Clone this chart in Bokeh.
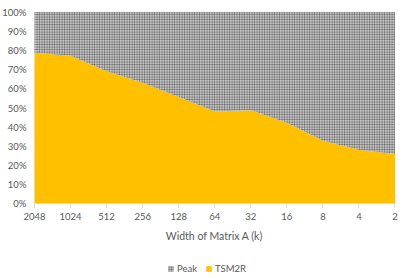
from bokeh.plotting import figure
from bokeh.models import (ColumnDataSource, Legend, LegendItem, FixedTicker, NumeralTickFormatter,
                          Range1d, LinearAxis)
from bokeh.embed import file_html
from bokeh.resources import INLINE

categories = ["2048", "1024", "512", "256", "128", "64", "32", "16", "8", "4", "2"]
tsm2r = [0.788, 0.772, 0.692, 0.632, 0.557, 0.482, 0.488, 0.423, 0.329, 0.282, 0.260]
peak = [1.0 - v for v in tsm2r]

xs = list(range(len(categories)))
src = ColumnDataSource(dict(x=xs, tsm2r=tsm2r, peak=peak))

FONT = "Lato"
TXT = "#595959"

n = len(categories) - 1
p = figure(frame_width=399, frame_height=275, output_backend="svg", toolbar_location=None,
           x_axis_location=None, y_axis_location=None,
           x_range=Range1d(-0.943, n + 0.125), y_range=Range1d(-0.3724, 1.0599))
p.min_border_left = 0
p.min_border_right = 0
p.min_border_top = 0
p.min_border_bottom = 0
p.outline_line_color = None
p.xgrid.visible = False
p.ygrid.visible = False

r_t = p.varea_stack(["tsm2r", "peak"], x="x", source=src,
                    color=["#FFC000", "#c6c6c6"],
                    hatch_pattern=[" ", "+"], hatch_color=["#FFC000", "#202020"],
                    hatch_scale=[3, 2.5], hatch_weight=[0.6, 0.7], hatch_alpha=[0, 0.55])

xaxis = LinearAxis(fixed_location=0, bounds=(0, n))
xaxis.ticker = FixedTicker(ticks=xs)
xaxis.major_label_overrides = {i: c for i, c in enumerate(categories)}
xaxis.axis_line_color = "#d9d9d9"
xaxis.major_tick_line_color = "#d9d9d9"
xaxis.major_tick_in = 0
xaxis.major_tick_out = 4
xaxis.minor_tick_line_color = None
xaxis.major_label_text_font = FONT
xaxis.major_label_text_font_size = "9.5px"
xaxis.major_label_text_color = TXT
xaxis.major_label_standoff = 5
xaxis.axis_label = "Width of Matrix A (k)"
xaxis.axis_label_text_font = FONT
xaxis.axis_label_text_font_size = "10.5px"
xaxis.axis_label_text_font_style = "normal"
xaxis.axis_label_text_color = TXT
xaxis.axis_label_standoff = 7
p.add_layout(xaxis, "below")

yaxis = LinearAxis(fixed_location=0, bounds=(0, 1))
yaxis.ticker = FixedTicker(ticks=[i / 10 for i in range(11)])
yaxis.formatter = NumeralTickFormatter(format="0%")
yaxis.axis_line_color = None
yaxis.major_tick_line_color = None
yaxis.minor_tick_line_color = None
yaxis.major_label_text_font = FONT
yaxis.major_label_text_font_size = "9.5px"
yaxis.major_label_text_color = TXT
yaxis.major_label_standoff = 2
p.add_layout(yaxis, "left")

legend = Legend(items=[LegendItem(label="Peak", renderers=[r_t[1]]),
                       LegendItem(label="TSM2R", renderers=[r_t[0]])],
                orientation="horizontal", location=(167, 1),
                label_text_font=FONT, label_text_font_size="9.5px", label_text_color=TXT,
                label_height=10, glyph_width=7, glyph_height=7, spacing=8, label_standoff=3,
                border_line_color=None, background_fill_alpha=0, margin=0, padding=2)
p.add_layout(legend)

open("out.html", "w").write(file_html(p, INLINE))
